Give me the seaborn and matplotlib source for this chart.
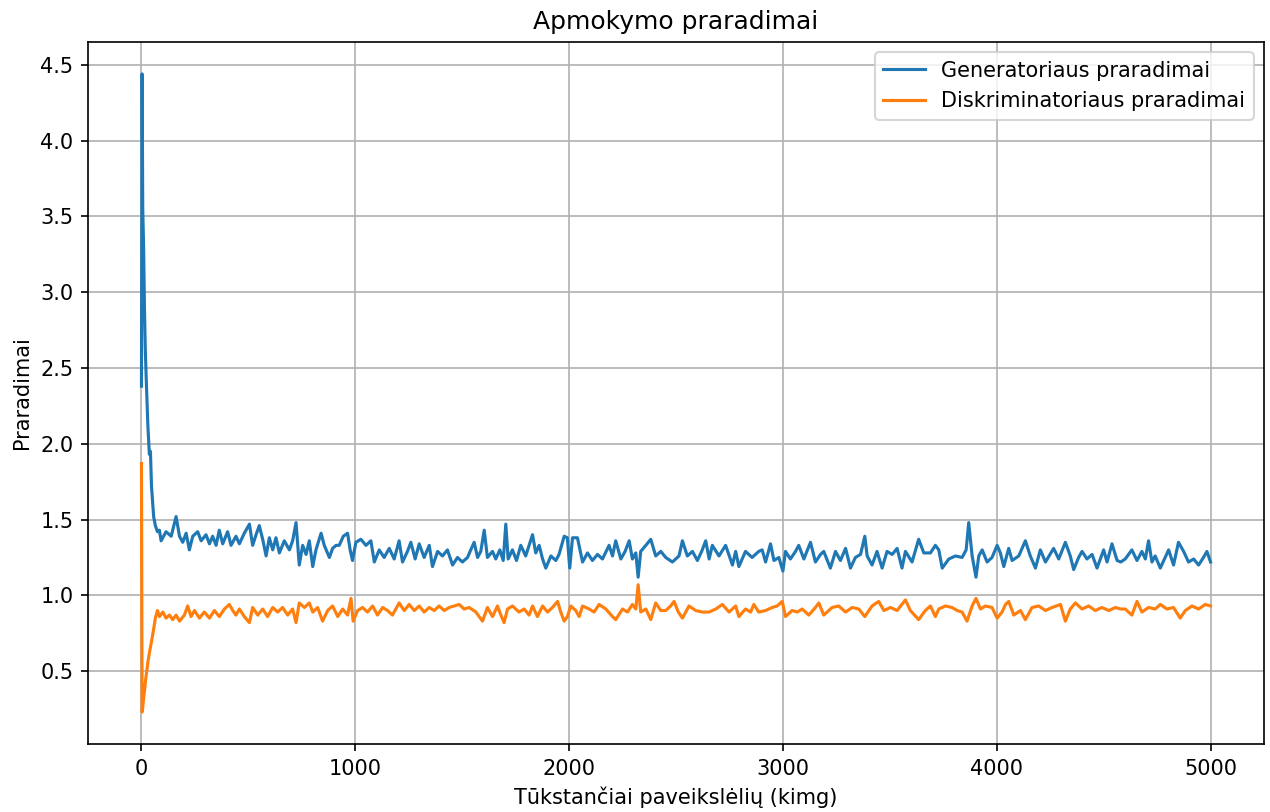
import matplotlib
matplotlib.use("Agg")
import matplotlib.pyplot as plt
from matplotlib.ticker import MultipleLocator
import seaborn as sns

# ---- data ----
gen_kimg = [0, 3, 6, 10, 14, 18, 23, 30, 37, 42, 47, 52, 57, 65, 75,
            84, 92, 115, 139, 162, 178, 193, 209, 224, 240, 263, 279, 302, 318, 333, 349, 364, 380, 403, 419,
            442, 458, 481, 505, 520, 536, 551, 567, 583, 598, 614, 629, 645, 668, 692, 707, 723, 738, 754, 770,
            785, 801, 816, 840, 855, 879, 894, 910,
            925, 944, 964, 976, 987, 1003, 1026, 1050, 1073, 1089, 1112, 1135, 1159, 1182, 1205, 1221, 1244,
            1260, 1280, 1299, 1322, 1346, 1361, 1385, 1408, 1431, 1455, 1478, 1501, 1525, 1540, 1556, 1572,
            1587, 1603, 1618, 1642, 1657, 1676, 1692, 1704, 1715, 1735, 1754, 1774, 1797, 1829, 1844,
            1860, 1876, 1891, 1915, 1938, 1953, 1977, 1992, 2003, 2016, 2039, 2063, 2086, 2109, 2133, 2156,
            2187, 2203, 2218, 2242, 2262, 2281, 2296, 2312, 2323, 2335, 2359, 2382, 2405, 2429, 2452, 2483,
            2514, 2530, 2553, 2577, 2600, 2620, 2639, 2655, 2670, 2701, 2732, 2764, 2779,
            2794, 2825, 2856, 2887, 2903, 2919, 2942, 2958, 2981, 3000, 3012, 3035, 3059, 3074, 3098, 3129,
            3152, 3176, 3191, 3222, 3246, 3269, 3293, 3316, 3339, 3363, 3383, 3394, 3417, 3440, 3464, 3487,
            3511, 3534, 3557, 3573, 3604, 3635, 3659, 3690, 3713,
            3729, 3745, 3776, 3807, 3838, 3857, 3869, 3885, 3903, 3916, 3932, 3955, 3978, 4002, 4017, 4033,
            4056, 4072, 4103, 4134, 4157, 4181, 4204, 4228, 4266, 4290, 4321, 4344, 4360, 4383, 4399, 4422,
            4446, 4469, 4500, 4516, 4539, 4563,
            4580, 4601, 4632, 4656, 4679, 4695, 4710, 4726, 4741, 4765, 4788, 4804, 4827, 4850, 4874, 4897,
            4921, 4944, 4967, 4983, 5000]
gen_loss = [2.38, 4.44, 3.55, 3.30, 2.90, 2.62, 2.40, 2.12, 1.93, 1.95, 1.72, 1.62, 1.52, 1.46, 1.42,
            1.43, 1.36, 1.42, 1.39, 1.52, 1.39, 1.35, 1.41, 1.30, 1.39, 1.42, 1.36, 1.40, 1.34, 1.39, 1.33, 1.43, 1.34, 1.42, 1.33,
            1.39, 1.34, 1.41, 1.47, 1.33, 1.40, 1.46, 1.37, 1.26, 1.38, 1.30, 1.38, 1.28, 1.36, 1.30, 1.36, 1.48, 1.20, 1.33, 1.27,
            1.36, 1.19, 1.30, 1.41, 1.33, 1.25, 1.31, 1.33,
            1.33, 1.39, 1.41, 1.30, 1.23, 1.35, 1.37, 1.33, 1.36, 1.22, 1.30, 1.25, 1.31, 1.24, 1.36, 1.22, 1.29,
            1.35, 1.24, 1.34, 1.25, 1.33, 1.19, 1.29, 1.26, 1.30, 1.20, 1.25, 1.22, 1.25, 1.30, 1.35, 1.25,
            1.29, 1.43, 1.25, 1.29, 1.24, 1.30, 1.23, 1.47, 1.24, 1.30, 1.23, 1.33, 1.26, 1.40, 1.28,
            1.33, 1.24, 1.18, 1.26, 1.23, 1.27, 1.39, 1.38, 1.18, 1.38, 1.38, 1.22, 1.28, 1.23, 1.27, 1.24,
            1.33, 1.26, 1.36, 1.24, 1.29, 1.36, 1.24, 1.28, 1.12, 1.29, 1.33, 1.37, 1.26, 1.29, 1.25, 1.22,
            1.26, 1.36, 1.26, 1.29, 1.23, 1.29, 1.36, 1.24, 1.33, 1.26, 1.33, 1.20, 1.29,
            1.19, 1.29, 1.25, 1.29, 1.30, 1.22, 1.34, 1.23, 1.25, 1.16, 1.29, 1.24, 1.29, 1.33, 1.24, 1.35,
            1.22, 1.27, 1.29, 1.18, 1.29, 1.23, 1.31, 1.18, 1.25, 1.27, 1.39, 1.26, 1.20, 1.29, 1.18, 1.29,
            1.27, 1.31, 1.18, 1.29, 1.22, 1.37, 1.28, 1.28, 1.33,
            1.30, 1.18, 1.24, 1.26, 1.25, 1.30, 1.48, 1.26, 1.12, 1.26, 1.30, 1.22, 1.25, 1.33, 1.28, 1.19,
            1.31, 1.23, 1.26, 1.36, 1.26, 1.18, 1.30, 1.22, 1.31, 1.24, 1.35, 1.26, 1.17, 1.25, 1.29, 1.24,
            1.27, 1.18, 1.30, 1.22, 1.34, 1.23,
            1.22, 1.24, 1.30, 1.23, 1.29, 1.24, 1.36, 1.22, 1.26, 1.18, 1.25, 1.30, 1.20, 1.35, 1.29, 1.22,
            1.24, 1.20, 1.25, 1.29, 1.22]

disc_kimg = [0, 3, 6, 10, 15, 20, 25, 30, 37, 45, 55, 65, 75,
             84, 100, 115, 131, 146, 162, 178, 201, 216, 232, 248, 271, 294, 318, 341, 364, 388, 411, 427,
             442, 458, 481, 505, 520, 544, 567, 590, 614, 637, 660, 684, 707, 723, 738, 762, 785, 801, 824,
             847, 871, 894, 918,
             941, 964, 980, 990, 1011, 1034, 1057, 1081, 1104, 1128, 1151, 1174, 1205, 1229, 1252, 1276,
             1299, 1322, 1346, 1369, 1392, 1416, 1439, 1463, 1486, 1509, 1533, 1564, 1595, 1618, 1642,
             1665, 1681, 1696, 1712, 1735, 1766, 1790, 1813, 1829, 1852,
             1876, 1899, 1922, 1946, 1961, 1977, 1992, 2008, 2031, 2047, 2063, 2094, 2117, 2140, 2172, 2203,
             2218, 2250, 2273, 2296, 2312, 2323, 2335, 2359, 2382, 2405, 2429, 2452, 2475, 2491, 2511, 2530,
             2561, 2592, 2623, 2655, 2686, 2717, 2748, 2779,
             2794, 2825, 2849, 2864, 2887, 2919, 2950, 2973, 2997, 3012, 3043, 3067, 3090, 3121, 3152, 3168,
             3191, 3230, 3261, 3293, 3324, 3355, 3383, 3417, 3448, 3472, 3503, 3534, 3573, 3596, 3635, 3666,
             3690, 3713,
             3729, 3760, 3791, 3815, 3838, 3861, 3885, 3903, 3924, 3947, 3978, 4002, 4025, 4041, 4056, 4080,
             4111, 4134, 4165, 4196, 4228, 4259, 4298, 4321, 4344, 4368, 4399, 4430, 4461, 4492, 4524, 4555,
             4580, 4601, 4632, 4656, 4679, 4710, 4741, 4765, 4796, 4827, 4858, 4882, 4913, 4944, 4975, 5000]
disc_loss = [1.87, 0.23, 0.26, 0.32, 0.38, 0.45, 0.50, 0.56, 0.62, 0.68, 0.76, 0.85, 0.90,
             0.86, 0.89, 0.85, 0.87, 0.84, 0.87, 0.83, 0.87, 0.93, 0.86, 0.90, 0.85, 0.89, 0.85, 0.90, 0.86, 0.91, 0.94, 0.90,
             0.87, 0.91, 0.86, 0.82, 0.92, 0.87, 0.91, 0.86, 0.92, 0.89, 0.92, 0.87, 0.91, 0.82, 0.95, 0.92, 0.95, 0.89, 0.92,
             0.83, 0.90, 0.93, 0.86,
             0.91, 0.87, 0.98, 0.83, 0.90, 0.92, 0.89, 0.93, 0.87, 0.92, 0.90, 0.87, 0.95, 0.90, 0.94, 0.90,
             0.93, 0.89, 0.92, 0.90, 0.93, 0.90, 0.92, 0.93, 0.94, 0.91, 0.92, 0.89, 0.83, 0.92, 0.86,
             0.93, 0.87, 0.82, 0.91, 0.93, 0.89, 0.91, 0.87, 0.93, 0.86,
             0.93, 0.89, 0.92, 0.96, 0.89, 0.83, 0.86, 0.93, 0.90, 0.86, 0.93, 0.91, 0.89, 0.94, 0.91, 0.86,
             0.84, 0.91, 0.89, 0.94, 0.91, 1.07, 0.89, 0.91, 0.84, 0.95, 0.90, 0.90, 0.93, 0.96, 0.89, 0.85,
             0.93, 0.90, 0.89, 0.89, 0.91, 0.94, 0.89, 0.93,
             0.86, 0.91, 0.89, 0.94, 0.89, 0.90, 0.92, 0.93, 0.96, 0.86, 0.90, 0.89, 0.91, 0.87, 0.92, 0.95,
             0.87, 0.92, 0.93, 0.89, 0.92, 0.91, 0.86, 0.93, 0.96, 0.90, 0.92, 0.90, 0.97, 0.90, 0.84, 0.90,
             0.93, 0.86,
             0.91, 0.93, 0.92, 0.90, 0.89, 0.83, 0.93, 0.98, 0.91, 0.93, 0.92, 0.85, 0.89, 0.94, 0.96, 0.87,
             0.90, 0.84, 0.92, 0.93, 0.90, 0.92, 0.94, 0.83, 0.91, 0.95, 0.91, 0.93, 0.90, 0.92, 0.90, 0.92,
             0.91, 0.91, 0.87, 0.96, 0.89, 0.92, 0.91, 0.94, 0.91, 0.92, 0.85, 0.90, 0.93, 0.91, 0.94, 0.93]

series_labels = ["Generatoriaus praradimai", "Diskriminatoriaus praradimai"]
title = "Apmokymo praradimai"
x_label = "Tūkstančiai paveikslėlių (kimg)"
y_label = "Praradimai"

# ---- plot ----
DPI = 150
plt.rcParams["font.family"] = ["DejaVu Sans"]
fig = plt.figure(figsize=(1270 / DPI, 812 / DPI), dpi=DPI)
ax = fig.add_axes([88 / 1270, 1 - 744 / 812, (1264 - 88) / 1270, (744 - 42) / 812])

sns.lineplot(x=gen_kimg, y=gen_loss, ax=ax, color="#1f77b4", linewidth=1.5,
             label=series_labels[0], estimator=None, sort=False)
sns.lineplot(x=disc_kimg, y=disc_loss, ax=ax, color="#ff7f0e", linewidth=1.5,
             label=series_labels[1], estimator=None, sort=False)

ax.yaxis.set_major_locator(MultipleLocator(0.5))
ax.set_title(title)
ax.set_xlabel(x_label)
ax.set_ylabel(y_label)
ax.grid(True)
ax.legend(loc="upper right")

fig.savefig("out.png", dpi=DPI)
